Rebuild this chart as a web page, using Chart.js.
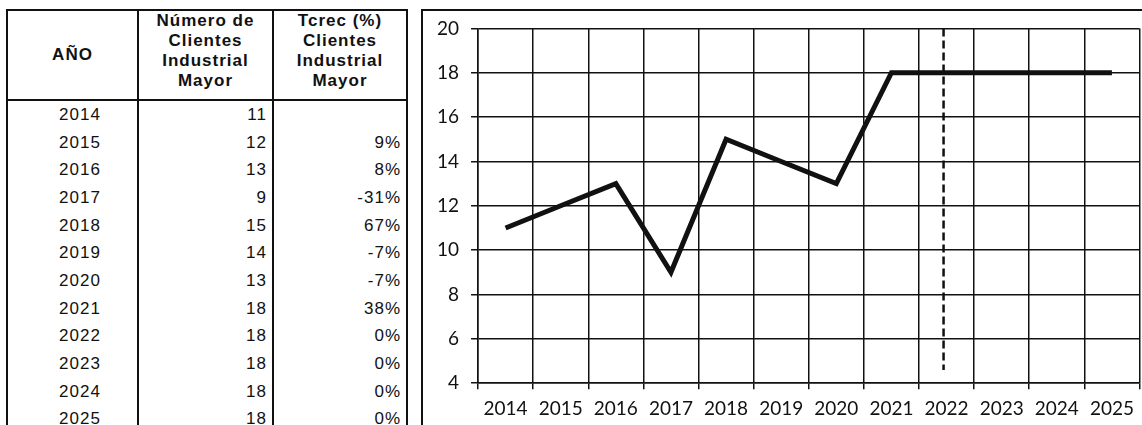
<!DOCTYPE html>
<html>
<head>
<meta charset="utf-8">
<script src="https://cdn.jsdelivr.net/npm/chart.js@4/dist/chart.umd.min.js"></script>
<style>
    html, body {
        margin: 0;
        padding: 0;
        background: #fff;
        overflow: hidden;
        width: 1142px;
        height: 425px;
    }
    #tabla {
        position: absolute;
        left: 6px;
        top: 9px;
        border-collapse: collapse;
        font-family: "Liberation Sans", Arial, sans-serif;
        font-size: 17px;
        letter-spacing: 1px;
        color: #111;
    }
    #tabla th {
        font-weight: bold;
        font-size: 17px;
        line-height: 20px;
        height: 88px;
        border: 2px solid #111;
        text-align: center;
        vertical-align: top;
        padding: 0;
    }
    #tabla th.anio {
        vertical-align: middle;
    }
    #tabla td {
        height: 27.7px;
        padding: 0 5px 0 5px;
        border-left: 2px solid #111;
        border-right: 2px solid #111;
    }
    #tabla td.anio { text-align: center; width: 104px; padding-left: 20px; }
    #tabla td.num { text-align: right; width: 123px; }
    #tabla td.pct { text-align: right; width: 122px; }
    #marco {
        position: absolute;
        left: 421px;
        top: 9px;
        width: 721px;
        height: 420px;
        border-left: 2px solid #111;
        border-top: 2px solid #111;
    }
    #contenedor {
        position: absolute;
        left: 423px;
        top: 5px;
        width: 719px;
        height: 423px;
    }
</style>
</head>
<body>

<table id="tabla">
    <thead>
        <tr>
            <th class="anio">AÑO</th>
            <th>Número de<br>Clientes<br>Industrial<br>Mayor</th>
            <th>Tcrec (%)<br>Clientes<br>Industrial<br>Mayor</th>
        </tr>
    </thead>
    <tbody id="filas"></tbody>
</table>

<div id="marco"></div>
<div id="contenedor"><canvas id="chartclientes"></canvas></div>

<script>
var anios = ['2014', '2015', '2016', '2017', '2018', '2019', '2020', '2021', '2022', '2023', '2024', '2025'];
var clientes = [11, 12, 13, 9, 15, 14, 13, 18, 18, 18, 18, 18];
var tcrec = ['', '9%', '8%', '-31%', '67%', '-7%', '-7%', '38%', '0%', '0%', '0%', '0%'];

// eje y
var yMin = 4;
var yMax = 20;
var yPaso = 2;

// linea punteada (inicio de la proyeccion)
var anioCorte = '2022';
var corteInferior = 4.6;

// tabla
var filas = document.getElementById('filas');
for (var i = 0; i < anios.length; i++) {
    var tr = document.createElement('tr');
    tr.innerHTML = '<td class="anio">' + anios[i] + '</td>' +
        '<td class="num">' + clientes[i] + '</td>' +
        '<td class="pct">' + tcrec[i] + '</td>';
    filas.appendChild(tr);
}

// plugin para la linea vertical punteada
var lineaCorte = {
    id: 'lineaCorte',
    afterDatasetsDraw: function (chart) {
        var ctx = chart.ctx;
        var x = chart.scales.x.getPixelForValue(anios.indexOf(anioCorte)) - 3;
        var y1 = chart.scales.y.getPixelForValue(yMax);
        var y2 = chart.scales.y.getPixelForValue(corteInferior);
        ctx.save();
        ctx.strokeStyle = '#111';
        ctx.lineWidth = 2.5;
        ctx.setLineDash([8, 4]);
        ctx.beginPath();
        ctx.moveTo(x, y1);
        ctx.lineTo(x, y2);
        ctx.stroke();
        ctx.restore();
    }
};

var chartArea = document.getElementById('chartclientes').getContext('2d');

var chartclientes = new Chart(chartArea, {
    type: 'line',
    data: {
        labels: anios,
        datasets: [{
            label: 'Número de Clientes Industrial Mayor',
            data: clientes,
            borderColor: '#111',
            borderWidth: 5,
            pointRadius: 0,
            tension: 0,
            borderJoinStyle: 'miter'
        }]
    },
    options: {
        responsive: true,
        maintainAspectRatio: false,
        animation: false,
        layout: {
            padding: { left: 2, right: 1, top: 5, bottom: 0 }
        },
        plugins: {
            legend: { display: false },
            tooltip: { enabled: false }
        },
        scales: {
            x: {
                offset: true,
                grid: {
                    offset: true,
                    color: '#111',
                    lineWidth: 1.5,
                    tickLength: 6
                },
                border: { color: '#111', width: 1.5 },
                ticks: {
                    color: '#111',
                    padding: 8,
                    maxRotation: 0,
                    font: { family: 'Lato', size: 19 }
                }
            },
            y: {
                min: yMin,
                max: yMax,
                grid: {
                    color: '#111',
                    lineWidth: 1.5,
                    tickLength: 7
                },
                border: { color: '#111', width: 1.5 },
                ticks: {
                    stepSize: yPaso,
                    color: '#111',
                    padding: 12,
                    font: { family: 'Lato', size: 19 }
                }
            }
        }
    },
    plugins: [lineaCorte]
});
</script>
</body>
</html>
